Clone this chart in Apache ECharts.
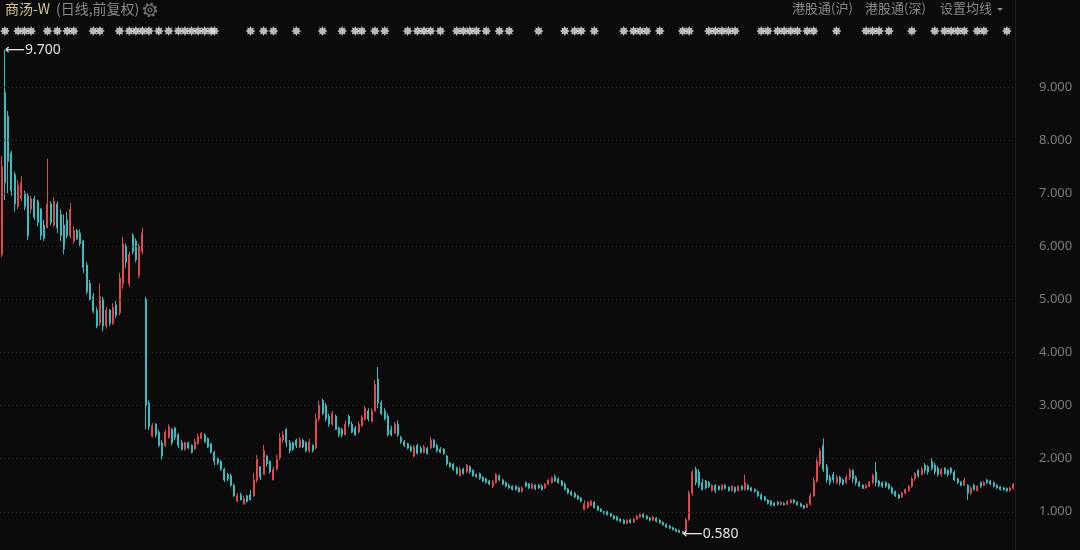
<!DOCTYPE html>
<html><head><meta charset="utf-8">
<script src="https://cdn.jsdelivr.net/npm/echarts@6/dist/echarts.min.js"></script>
<style>html,body{margin:0;padding:0;background:#0b0b0b;}#c{width:1080px;height:550px;}</style>
</head><body><div id="c"></div>
<script>
// y-axis ticks (price levels)
const yTicks = [1, 2, 3, 4, 5, 6, 7, 8, 9];
// daily candles: [open, close, low, high]
const ohlc = [
[5.84,7.50,5.80,7.70],[8.90,7.20,6.87,9.70],[8.45,7.60,7.00,8.55],[7.75,7.05,6.95,7.80],[7.35,6.80,6.65,7.40],
[6.75,7.15,6.70,7.25],[6.90,7.20,6.85,7.32],[7.00,6.75,6.68,7.05],[6.95,6.20,6.12,7.00],[6.70,6.90,6.62,6.95],
[6.90,6.55,6.50,6.95],[6.85,6.45,6.38,6.88],[6.70,6.20,6.12,6.72],[6.40,6.15,6.10,6.50],[6.35,6.80,6.35,7.65],
[6.80,6.45,6.40,6.85],[6.40,6.85,6.37,6.93],[6.80,6.35,6.25,6.85],[6.60,6.20,6.10,6.70],[6.40,5.95,5.85,6.60],
[6.50,6.20,6.15,6.65],[6.20,6.70,6.15,6.82],[6.10,6.30,6.05,6.38],[6.30,6.15,6.12,6.33],[6.25,6.05,6.00,6.32],
[6.10,5.60,5.50,6.12],[5.65,5.15,5.10,5.70],[5.30,5.00,4.98,5.37],[5.05,4.78,4.74,5.12],[4.80,4.50,4.46,4.86],
[4.55,5.05,4.50,5.30],[5.00,4.50,4.40,5.05],[4.50,4.80,4.45,4.86],[4.80,4.55,4.50,4.82],[4.55,4.85,4.52,4.93],
[4.90,4.70,4.65,4.97],[4.75,5.40,4.70,5.50],[5.30,6.05,5.20,6.18],[6.00,5.70,5.60,6.05],[5.30,5.85,5.24,5.90],
[6.20,5.90,5.85,6.25],[6.10,5.75,5.70,6.15],[5.45,6.00,5.40,6.05],[5.90,6.25,5.85,6.35],
[5.00,3.00,2.55,5.05],[3.05,2.60,2.54,3.10],[2.42,2.62,2.40,2.67],[2.65,2.45,2.40,2.67],[2.50,2.25,2.22,2.54],
[2.30,2.05,1.98,2.35],[2.25,2.50,2.22,2.54],[2.40,2.60,2.38,2.65],[2.55,2.30,2.25,2.58],[2.58,2.40,2.35,2.60],
[2.45,2.25,2.20,2.48],[2.30,2.18,2.15,2.35],[2.18,2.30,2.15,2.32],[2.30,2.20,2.18,2.32],[2.25,2.12,2.10,2.27],
[2.18,2.32,2.17,2.37],[2.28,2.42,2.27,2.48],[2.38,2.48,2.36,2.50],[2.45,2.32,2.30,2.48],[2.38,2.22,2.20,2.40],
[2.28,2.12,2.10,2.30],[2.12,1.95,1.88,2.15],[2.00,1.92,1.88,2.02],[1.95,1.80,1.77,1.97],[1.80,1.60,1.56,1.83],
[1.70,1.62,1.58,1.73],[1.68,1.50,1.47,1.72],[1.50,1.30,1.28,1.53],[1.20,1.30,1.18,1.35],[1.32,1.22,1.22,1.36],
[1.15,1.25,1.13,1.30],[1.30,1.20,1.17,1.32],[1.32,1.22,1.22,1.41],[1.30,1.60,1.28,1.73],[1.60,2.00,1.55,2.07],
[1.85,1.65,1.60,1.85],[1.70,2.15,1.70,2.26],[2.05,1.90,1.85,2.07],[1.95,1.75,1.72,1.97],[1.60,1.80,1.60,1.85],
[1.80,2.00,1.78,2.07],[2.00,2.40,1.98,2.48],[2.35,2.45,2.30,2.52],[2.55,2.30,2.22,2.58],[2.30,2.15,2.10,2.35],
[2.30,2.18,2.15,2.32],[2.35,2.25,2.20,2.38],[2.22,2.35,2.20,2.40],[2.35,2.22,2.20,2.37],[2.30,2.15,2.12,2.33],
[2.15,2.32,2.12,2.37],[2.25,2.15,2.12,2.27],[2.20,2.75,2.18,2.85],[2.75,3.00,2.70,3.10],[3.10,2.85,2.82,3.13],
[3.00,2.75,2.70,3.05],[2.80,2.65,2.60,2.85],[2.65,2.85,2.62,2.90],[2.80,2.55,2.54,2.83],[2.58,2.45,2.41,2.60],
[2.55,2.45,2.40,2.58],[2.45,2.65,2.44,2.72],[2.80,2.65,2.60,2.83],[2.65,2.50,2.48,2.70],[2.58,2.45,2.43,2.62],
[2.50,2.65,2.48,2.70],[2.62,2.78,2.60,2.82],[2.75,2.95,2.72,3.00],[2.90,2.75,2.70,2.95],[2.70,2.90,2.68,2.95],
[2.90,3.40,2.88,3.48],[3.50,3.05,2.95,3.73],[3.05,2.85,2.82,3.10],[2.90,2.75,2.72,2.95],[2.80,2.45,2.42,2.85],
[2.55,2.45,2.42,2.62],[2.48,2.65,2.47,2.69],[2.65,2.45,2.41,2.72],[2.40,2.32,2.28,2.43],
[2.32,2.25,2.22,2.35],[2.28,2.20,2.18,2.30],[2.22,2.15,2.13,2.25],[2.05,2.22,2.03,2.25],[2.25,2.10,2.08,2.28],
[2.20,2.12,2.10,2.24],[2.12,2.22,2.10,2.26],[2.20,2.10,2.07,2.22],[2.20,2.35,2.18,2.41],[2.35,2.22,2.20,2.37],
[2.25,2.15,2.12,2.28],[2.18,2.12,2.10,2.22],[2.18,2.10,2.07,2.20],[2.05,1.90,1.87,2.07],[1.92,1.85,1.83,1.94],
[1.90,1.80,1.77,1.92],[1.82,1.72,1.70,1.85],[1.68,1.80,1.66,1.84],[1.80,1.72,1.70,1.83],[1.75,1.88,1.73,1.90],
[1.85,1.75,1.72,1.87],[1.78,1.68,1.66,1.80],[1.70,1.66,1.64,1.72],[1.72,1.63,1.60,1.74],[1.65,1.58,1.56,1.67],
[1.62,1.55,1.53,1.64],[1.58,1.52,1.50,1.60],[1.48,1.56,1.45,1.60],[1.55,1.70,1.53,1.73],[1.68,1.60,1.58,1.70],
[1.60,1.52,1.50,1.62],[1.55,1.48,1.46,1.57],[1.50,1.45,1.43,1.53],[1.48,1.42,1.40,1.50],[1.48,1.42,1.40,1.50],
[1.45,1.38,1.36,1.47],[1.38,1.45,1.36,1.48],[1.55,1.48,1.46,1.57],[1.52,1.45,1.43,1.54],[1.44,1.52,1.43,1.54],
[1.50,1.43,1.41,1.52],[1.50,1.45,1.43,1.52],[1.48,1.42,1.40,1.52],[1.45,1.52,1.43,1.54],[1.52,1.60,1.50,1.62],
[1.55,1.64,1.53,1.66],[1.66,1.58,1.56,1.70],[1.62,1.55,1.53,1.65],[1.58,1.50,1.48,1.60],[1.52,1.42,1.40,1.55],
[1.43,1.35,1.33,1.45],[1.38,1.32,1.30,1.40],[1.35,1.28,1.26,1.37],[1.30,1.24,1.22,1.32],[1.26,1.20,1.18,1.28],
[1.04,1.15,1.03,1.22],[1.08,1.18,1.06,1.20],[1.12,1.20,1.10,1.22],[1.18,1.08,1.06,1.20],[1.10,1.03,1.02,1.12],
[1.05,1.00,0.98,1.07],[1.00,0.97,0.95,1.02],[1.00,0.95,0.93,1.02],[0.97,0.92,0.90,0.98],[0.92,0.87,0.85,0.94],
[0.90,0.84,0.83,0.92],[0.86,0.82,0.80,0.88],[0.84,0.78,0.77,0.86],[0.78,0.84,0.77,0.86],[0.85,0.80,0.78,0.87],
[0.80,0.86,0.79,0.89],[0.86,0.92,0.85,0.94],[0.90,0.95,0.88,0.97],[0.95,0.90,0.88,0.97],[0.92,0.87,0.85,0.94],
[0.88,0.84,0.82,0.90],[0.84,0.90,0.83,0.92],[0.88,0.82,0.80,0.90],[0.84,0.79,0.77,0.86],[0.80,0.75,0.74,0.82],
[0.76,0.71,0.70,0.78],[0.73,0.69,0.67,0.75],[0.70,0.66,0.65,0.72],[0.67,0.63,0.62,0.69],[0.65,0.61,0.60,0.66],
[0.63,0.60,0.58,0.64],
[0.62,0.85,0.60,0.88],[0.85,1.35,0.83,1.40],[1.35,1.75,1.30,1.79],[1.80,1.55,1.50,1.85],[1.75,1.50,1.45,1.80],
[1.55,1.42,1.40,1.62],[1.58,1.45,1.42,1.60],[1.55,1.48,1.45,1.58],[1.40,1.50,1.38,1.52],[1.50,1.40,1.35,1.52],
[1.48,1.42,1.40,1.50],[1.42,1.50,1.40,1.52],[1.50,1.44,1.42,1.52],[1.46,1.40,1.38,1.48],[1.40,1.48,1.38,1.50],
[1.46,1.38,1.35,1.48],[1.40,1.48,1.38,1.50],[1.48,1.42,1.40,1.50],[1.42,1.55,1.40,1.70],[1.50,1.42,1.40,1.52],
[1.45,1.40,1.38,1.47],[1.42,1.38,1.36,1.44],[1.38,1.30,1.28,1.40],[1.32,1.24,1.22,1.35],[1.28,1.22,1.20,1.30],
[1.22,1.16,1.14,1.24],[1.20,1.13,1.11,1.22],[1.16,1.12,1.10,1.18],[1.18,1.14,1.12,1.20],[1.14,1.18,1.12,1.20],
[1.16,1.13,1.12,1.18],[1.14,1.19,1.13,1.21],[1.17,1.22,1.16,1.24],[1.22,1.17,1.15,1.24],[1.18,1.13,1.12,1.20],
[1.15,1.10,1.09,1.17],[1.12,1.07,1.05,1.13],[1.08,1.14,1.07,1.16],[1.14,1.30,1.12,1.35],[1.30,1.58,1.28,1.65],
[1.58,1.95,1.55,2.03],[1.90,2.15,1.85,2.20],[2.25,1.80,1.75,2.38],[1.85,1.60,1.55,1.90],[1.65,1.55,1.50,1.70],
[1.70,1.60,1.55,1.75],[1.55,1.65,1.52,1.70],[1.65,1.55,1.50,1.68],[1.60,1.52,1.50,1.63],[1.55,1.65,1.52,1.70],
[1.65,1.78,1.60,1.82],[1.78,1.62,1.55,1.80],[1.65,1.55,1.50,1.68],[1.55,1.48,1.47,1.58],[1.50,1.44,1.43,1.52],
[1.45,1.50,1.43,1.52],[1.48,1.56,1.46,1.58],[1.55,1.68,1.52,1.72],[1.75,1.55,1.48,1.94],[1.58,1.50,1.46,1.60],
[1.55,1.48,1.45,1.57],[1.55,1.48,1.45,1.57],[1.52,1.44,1.42,1.54],[1.45,1.35,1.33,1.48],[1.38,1.30,1.28,1.40],
[1.32,1.26,1.24,1.34],[1.28,1.35,1.26,1.38],[1.35,1.42,1.33,1.44],[1.40,1.48,1.38,1.50],[1.48,1.62,1.45,1.66],
[1.62,1.72,1.58,1.75],[1.78,1.68,1.64,1.80],[1.70,1.80,1.68,1.85],[1.88,1.78,1.72,1.92],[1.85,1.75,1.70,1.88],
[1.95,1.82,1.78,2.01],[1.88,1.75,1.70,1.92],[1.82,1.70,1.66,1.86],[1.70,1.80,1.66,1.82],[1.82,1.72,1.70,1.84],
[1.78,1.70,1.66,1.80],[1.82,1.74,1.70,1.84],[1.75,1.60,1.58,1.78],[1.62,1.55,1.52,1.64],[1.56,1.50,1.48,1.58],
[1.50,1.60,1.48,1.64],[1.50,1.35,1.22,1.52],[1.35,1.45,1.32,1.48],[1.50,1.42,1.40,1.53],[1.40,1.48,1.38,1.50],
[1.55,1.48,1.45,1.57],[1.50,1.55,1.48,1.58],[1.60,1.55,1.52,1.62],[1.58,1.52,1.50,1.60],[1.55,1.48,1.46,1.57],
[1.50,1.45,1.43,1.52],[1.47,1.42,1.40,1.48],[1.45,1.41,1.40,1.47],[1.44,1.39,1.38,1.46],[1.40,1.45,1.38,1.47],
[1.44,1.52,1.42,1.54]
];
// day categories (trading-day sequence)
const categories = ohlc.map((_, i) => 'D' + (i + 1));
// event flag positions (index of the trading day)
const markerIdx = [1,5,7,9,14,17,20,22,28,30,36,39,41,43,45,48,51,54,56,58,60,62,64,65,76,80,83,90,98,104,108,110,114,117,
124,127,129,131,134,139,141,143,145,148,152,155,164,172,175,177,181,190,193,195,197,201,208,210,216,218,220,222,224,
232,234,237,239,241,243,246,248,255,264,266,268,271,278,285,288,290,292,294,298,300,307];

const UP = '#e0474f', DOWN = '#34c0c2';
const starPath = 'path://M20 10 L15.54 12.3 L17.07 17.07 L12.3 15.54 L10 20 L7.7 15.54 L2.93 17.07 L4.46 12.3 L0 10 L4.46 7.7 L2.93 2.93 L7.7 4.46 L10 0 L12.3 4.46 L17.07 2.93 L15.54 7.7 Z';

const chart = echarts.init(document.getElementById('c'), null, {renderer: 'canvas'});
chart.setOption({
  backgroundColor: '#0b0b0b',
  animation: false,
  grid: [
    {left: 0, right: 65, top: 34, bottom: 0},
    {left: 0, right: 65, top: 24, height: 14}
  ],
  xAxis: [
    {type: 'category', data: categories, boundaryGap: true, show: false},
    {type: 'category', data: categories, boundaryGap: true, show: false, gridIndex: 1}
  ],
  yAxis: [
    {
      type: 'value', position: 'right', min: 0.28, max: 10,
      axisLine: {show: false}, axisTick: {show: false}, splitLine: {show: false},
      axisLabel: {show: false}
    },
    {type: 'value', gridIndex: 1, min: 0, max: 1, show: false}
  ],
  series: [
    {
      type: 'candlestick',
      data: ohlc,
      barWidth: 1.5,
      itemStyle: {color: UP, color0: DOWN, borderColor: UP, borderColor0: DOWN, borderWidth: 1},
      markLine: {
        silent: true, symbol: ['none', 'none'], animation: false,
        label: {
          show: true, position: 'end', distance: 24, color: '#7c7c7c', fontSize: 13,
          fontFamily: "'Noto Sans', sans-serif",
          formatter: p => Number(p.value).toFixed(3)
        },
        lineStyle: {color: '#2c2c2c', type: [1, 3], width: 1},
        data: yTicks.map(v => ({yAxis: v}))
      },
      markPoint: {
        symbol: 'circle', symbolSize: 0, animation: false, silent: true,
        label: {
          show: true, position: 'right', distance: 0, color: '#e4e4e4', fontSize: 14,
          fontFamily: "'Noto Sans', 'DejaVu Sans', sans-serif",
          formatter: p => '\u27F5' + Number(p.value).toFixed(3)
        },
        data: [{type: 'max', valueDim: 'highest'}, {type: 'min', valueDim: 'lowest'}]
      }
    },
    {
      type: 'scatter', xAxisIndex: 1, yAxisIndex: 1,
      data: markerIdx.map(i => [i, 0.5]),
      symbol: starPath, symbolSize: 10,
      itemStyle: {color: '#e6e6e6'}, silent: true
    }
  ],
  graphic: [
    {type: 'line', silent: true, shape: {x1: 1015.5, y1: 0, x2: 1015.5, y2: 550}, style: {stroke: '#1f1f1f', lineWidth: 1}},
    {type: 'text', left: 5, top: 2, style: {text: '商汤-W', fill: '#d2c68e', fontSize: 14, fontFamily: "'Noto Sans CJK SC', sans-serif"}},
    {type: 'text', left: 56, top: 2, style: {text: '(日线,前复权)', fill: '#8a8a8a', fontSize: 14, fontFamily: "'Noto Sans CJK SC', sans-serif"}},
    {type: 'group', x: 150, y: 10, silent: true, children: [
      {type: 'circle', shape: {cx: 0, cy: 0, r: 6}, style: {fill: 'none', stroke: '#7a7a7a', lineWidth: 2.4, lineDash: [2.1, 2.6]}},
      {type: 'circle', shape: {cx: 0, cy: 0, r: 5}, style: {fill: 'none', stroke: '#7a7a7a', lineWidth: 1.2}},
      {type: 'circle', shape: {cx: 0, cy: 0, r: 2}, style: {fill: 'none', stroke: '#7a7a7a', lineWidth: 1.2}}
    ]},
    {type: 'text', left: 792, top: 2, style: {text: '港股通(沪)', fill: '#8a8a8a', fontSize: 13, fontFamily: "'Noto Sans CJK SC', sans-serif"}},
    {type: 'text', left: 865, top: 2, style: {text: '港股通(深)', fill: '#8a8a8a', fontSize: 13, fontFamily: "'Noto Sans CJK SC', sans-serif"}},
    {type: 'text', left: 940, top: 2, style: {text: '设置均线', fill: '#8a8a8a', fontSize: 13, fontFamily: "'Noto Sans CJK SC', sans-serif"}},
    {type: 'polygon', silent: true, shape: {points: [[997, 8], [1003, 8], [1000, 11]]}, style: {fill: '#8a8a8a'}}
  ]
});
</script>
</body></html>
